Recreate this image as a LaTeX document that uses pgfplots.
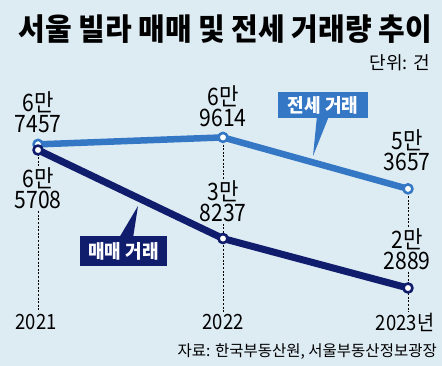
\documentclass[border=0pt]{standalone}
\usepackage{pgfplots}
\pgfplotsset{compat=1.18}
\usepackage{fontspec}
\setmainfont{Noto Sans CJK KR}
\newfontfamily\krnum[FakeStretch=0.88]{Noto Sans CJK KR}
\newfontfamily\krt[FakeStretch=0.95]{Noto Sans CJK KR}
\definecolor{bg}{HTML}{DDEBF3}
\definecolor{lblue}{HTML}{3477C4}
\definecolor{navy}{HTML}{101C6C}
\begin{document}
\begin{tikzpicture}
\begin{axis}[
  at={(0pt,0pt)}, anchor=south west,
  scale only axis, width=442pt, height=366pt,
  xmin=2020.7946, xmax=2023.1838, ymin=-1312, ymax=112250,
  axis lines=none, xtick=\empty, ytick=\empty, clip=false,
]
\fill[bg] (rel axis cs:0,0) rectangle (rel axis cs:1,1);
\draw[black, line width=0.7pt, dash pattern=on 2pt off 1.6pt] (axis cs:2021,65708) -- (axis cs:2021,15443);
\draw[black, line width=0.7pt, dash pattern=on 2pt off 1.6pt] (axis cs:2022,69614) -- (axis cs:2022,15443);
\draw[black, line width=0.7pt, dash pattern=on 2pt off 1.6pt] (axis cs:2023,53657) -- (axis cs:2023,15443);
\addplot[lblue, line width=6.5pt, line join=round, mark=*, mark size=4.5pt, mark options={fill=white, draw=lblue, line width=2.6pt}] coordinates {(2021,67457) (2022,69614) (2023,53657)};
\addplot[navy, line width=7pt, line join=round, mark=*, mark size=4.5pt, mark options={fill=white, draw=navy, line width=2.6pt}] coordinates {(2021,65708) (2022,38237) (2023,22889)};
\end{axis}
\begin{scope}[x=1pt, y=-1pt, shift={(0pt,366pt)}]
\tikzset{val/.style={align=center, font=\krnum\fontsize{24}{21}\selectfont, fill=bg, inner sep=1pt}}
\node[val] at (38,112) {6만\\7457};
\node[val] at (38,188) {6만\\5708};
\node[val] at (223,106) {6만\\9614};
\node[val] at (223,201) {3만\\8237};
\node[val] at (407,150) {5만\\3657};
\node[val] at (407,249) {2만\\2889};
\tikzset{yr/.style={font=\krnum\fontsize{21}{24}\selectfont, fill=bg, inner sep=1pt}}
\node[yr] at (36,322) {2021};
\node[yr] at (223,322) {2022};
\node[yr] at (405,322) {2023년};
% legend callouts
\fill[lblue] (317,116) -- (329,116) -- (313,156) -- cycle;
\node[fill=lblue, text=white, minimum width=90pt, minimum height=26pt, inner sep=0pt, font=\krt\bfseries\fontsize{19}{22}\selectfont] at (323,105.5) {전세 거래};
\fill[navy] (119,238) -- (133,238) -- (138,206) -- cycle;
\node[fill=navy, text=white, minimum width=87pt, minimum height=30pt, inner sep=0pt, font=\krt\bfseries\fontsize{19}{22}\selectfont] at (123.5,251.5) {매매 거래};
% titles
\node[anchor=east, font=\krt\bfseries\fontsize{30.5}{33}\selectfont, inner sep=0pt] at (432,29) {서울 빌라 매매 및 전세 거래량 추이};
\node[anchor=east, font=\fontsize{18}{20}\selectfont, inner sep=0pt] at (430,62.5) {단위: 건};
\node[anchor=east, font=\fontsize{15.5}{18}\selectfont, inner sep=0pt] at (437,352) {자료: 한국부동산원, 서울부동산정보광장};
\pgfresetboundingbox
\path (0,0) rectangle (442,366);
\end{scope}
\end{tikzpicture}
\end{document}
